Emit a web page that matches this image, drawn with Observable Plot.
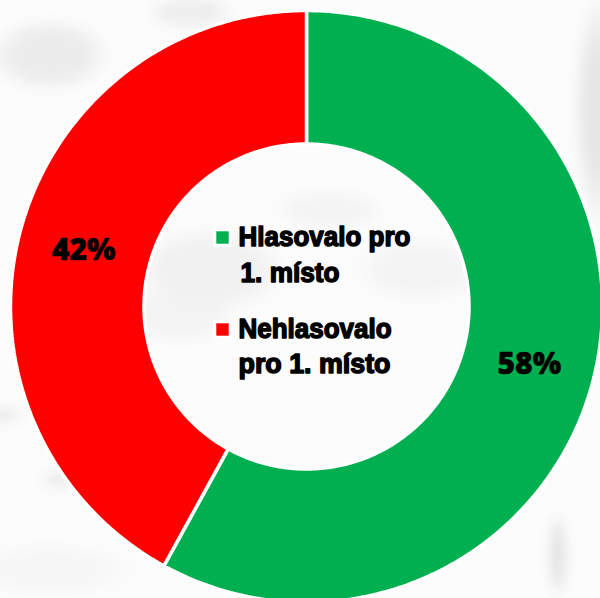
<!DOCTYPE html>
<html><head><meta charset="utf-8">
<script src="https://cdn.jsdelivr.net/npm/d3@7"></script>
<script src="https://cdn.jsdelivr.net/npm/@observablehq/plot@0.6"></script>
<style>
html,body{margin:0;padding:0;background:#fff;overflow:hidden}
#bg{position:absolute;left:-20px;top:-20px;width:640px;height:638px;filter:blur(6px);
 background:
  radial-gradient(ellipse 62px 38px at 70px 75px,#ececec 60%,transparent 100%),
  radial-gradient(ellipse 45px 18px at 210px 32px,#eeeeee 60%,transparent 100%),
  radial-gradient(ellipse 25px 120px at 618px 130px,#e6e6e6 50%,transparent 100%),
  radial-gradient(ellipse 80px 45px at 230px 290px,#f1f1f1 60%,transparent 100%),
  radial-gradient(ellipse 60px 30px at 200px 335px,#f3f3f3 60%,transparent 100%),
  radial-gradient(ellipse 70px 35px at 440px 290px,#f3f3f3 50%,transparent 100%),
  radial-gradient(ellipse 60px 22px at 350px 230px,#f4f4f4 60%,transparent 100%),
  radial-gradient(ellipse 18px 8px at 25px 435px,#e8e8e8 50%,transparent 100%),
  radial-gradient(ellipse 18px 8px at 78px 500px,#e8e8e8 50%,transparent 100%),
  radial-gradient(ellipse 10px 45px at 578px 575px,#e2e2e2 50%,transparent 100%),
  radial-gradient(ellipse 90px 30px at 70px 590px,#f6f6f6 50%,transparent 100%),
  #fcfcfc;}
#chart{position:absolute;left:0;top:0;width:600px;height:598px}
svg{display:block}
</style></head><body><div id="bg"></div><div id="chart"></div>
<script>
const categories = ["Hlasovalo pro 1. místo", "Nehlasovalo pro 1. místo"];
const shares = [58, 42];
const colors = ["#00b050", "#ff0000"];
const labels = ["58%", "42%"];
const legendLines = [["Hlasovalo pro", "1. místo"], ["Nehlasovalo", "pro 1. místo"]];
const legendWidths = [172, 99, 153, 152];

const W = 600, H = 598, R = 296, r = 162.5, cx = 306, cy = 306;
const pie = d3.pie().sort(null).value(d => d.value)(categories.map((c, i) => ({c, value: shares[i], color: colors[i]})));
const ring = [];
pie.forEach(s => {
  const n = 240;
  const pts = [];
  for (let i = 0; i <= n; i++) { const a = s.startAngle + (s.endAngle - s.startAngle) * i / n; pts.push([R * Math.sin(a), R * Math.cos(a)]); }
  for (let i = n; i >= 0; i--) { const a = s.startAngle + (s.endAngle - s.startAngle) * i / n; pts.push([r * Math.sin(a), r * Math.cos(a)]); }
  pts.push(pts[0]);
  pts.forEach(p => ring.push({x: p[0], y: p[1], c: s.data.c, color: s.data.color}));
});
const labelPts = pie.map((s, i) => {
  const a = (s.startAngle + s.endAngle) / 2, m = 230;
  return {x: m * Math.sin(a), y: m * Math.cos(a), t: labels[i]};
});
const pctFont = "'Noto Sans', 'Open Sans', sans-serif";
const legendFont = "'Liberation Sans', sans-serif";
const legendRows = [
  {x: -68, y: 69, t: legendLines[0][0]}, {x: -66, y: 33, t: legendLines[0][1]},
  {x: -68, y: -23, t: legendLines[1][0]}, {x: -68, y: -58, t: legendLines[1][1]}
];
const swatches = [{x: -84, y: 69, color: colors[0]}, {x: -84, y: -23, color: colors[1]}];

const chart = Plot.plot({
  width: W, height: H, margin: 0,
  x: {domain: [-cx, W - cx], range: [0, W], axis: null},
  y: {domain: [-(H - cy), cy], range: [H, 0], axis: null},
  marks: [
    Plot.line(ring, {x: "x", y: "y", z: "c", fill: "color", stroke: "#fff", strokeWidth: 3.5, strokeLinejoin: "miter"}),
    Plot.dot(swatches, {x: "x", y: "y", symbol: "square", r: 10.5, fill: "#fff", stroke: "none"}),
    Plot.dot(swatches, {x: "x", y: "y", symbol: "square", r: 7, fill: "color", stroke: "none"}),
    Plot.text(labelPts, {x: "x", y: "y", dy: 1, text: "t", fontSize: 30, fontWeight: 900, fontFamily: pctFont, fill: "#000", stroke: "#000", strokeWidth: 0.5}),
    Plot.text(legendRows, {x: "x", y: "y", text: "t", textAnchor: "start", fontSize: 28, fontWeight: 700, fontFamily: legendFont, fill: "#000", stroke: "#000", strokeWidth: 1.5})
  ]
});
chart.style.background = "transparent";
const textGroups = chart.querySelectorAll('g[aria-label="text"]');
textGroups[1].querySelectorAll("text").forEach((t, i) => {
  t.setAttribute("textLength", legendWidths[i]);
  t.setAttribute("lengthAdjust", "spacingAndGlyphs");
});
document.getElementById("chart").append(chart);
</script></body></html>
